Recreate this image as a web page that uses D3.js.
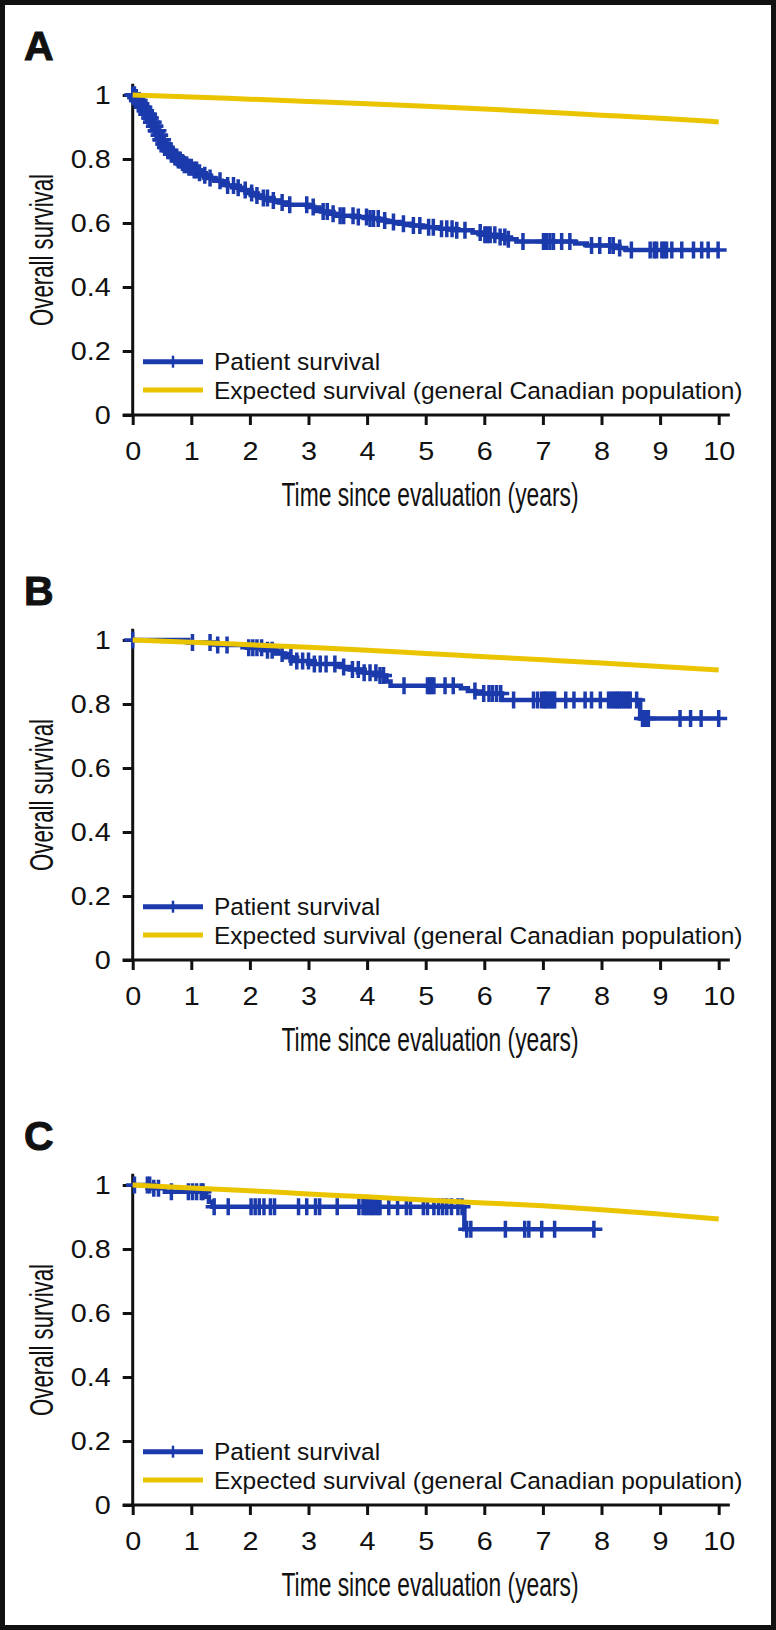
<!DOCTYPE html>
<html><head><meta charset="utf-8">
<script src="https://cdn.jsdelivr.net/npm/d3@7/dist/d3.min.js"></script>
<style>html,body{margin:0;padding:0;background:#fff;} svg{display:block;}</style>
</head><body>
<script>
// ---------- data ----------
const yearTicks = [0,1,2,3,4,5,6,7,8,9,10];
const survivalTicks = [0,0.2,0.4,0.6,0.8,1];
const panelLabels = ["A","B","C"];
const legendLabels = ["Patient survival","Expected survival (general Canadian population)"];
const xTitle = "Time since evaluation (years)";
const yTitle = "Overall survival";

// expected survival (general Canadian population), at yearly points
const expectedTimes = [0,1,2,3,4,5,6,7,8,9,10];
const expectedA = [1,0.994,0.987,0.980,0.973,0.965,0.956,0.947,0.937,0.927,0.916];
const expectedB = [1,0.993,0.985,0.977,0.968,0.958,0.948,0.938,0.928,0.917,0.906];
const expectedC = [1,0.991,0.982,0.972,0.963,0.953,0.944,0.935,0.923,0.909,0.894];

// Kaplan-Meier patient survival: event times and survival after each event
const eventTimesA = [0,0.04,0.08,0.12,0.16,0.2,0.24,0.28,0.32,0.36,0.40,0.44,0.48,0.52,0.56,0.60,0.65,0.70,0.76,0.82,0.88,0.95,1.02,1.10,1.18,1.28,1.40,1.52,1.62,1.74,1.86,1.98,2.10,2.22,2.34,2.50,2.62,3.00,3.10,3.22,3.34,3.46,3.80,4.05,4.20,4.35,4.55,4.75,4.95,5.25,5.50,5.80,6.00,6.20,6.40,6.55,7.55,7.75,8.22,8.42];
const survA = [1,0.992,0.983,0.973,0.962,0.951,0.940,0.928,0.915,0.902,0.888,0.874,0.860,0.847,0.836,0.826,0.815,0.806,0.797,0.789,0.782,0.774,0.766,0.757,0.749,0.741,0.732,0.724,0.717,0.710,0.703,0.694,0.686,0.678,0.670,0.664,0.657,0.650,0.643,0.636,0.629,0.623,0.619,0.614,0.608,0.603,0.598,0.592,0.587,0.582,0.577,0.570,0.563,0.556,0.549,0.542,0.536,0.530,0.522,0.516];
const censorA = [0,0.02,0.03,0.05,0.06,0.08,0.09,0.11,0.13,0.14,0.16,0.17,0.19,0.21,0.22,0.24,0.25,0.27,0.29,0.30,0.32,0.33,0.35,0.37,0.38,0.40,0.41,0.43,0.45,0.46,0.48,0.49,0.51,0.53,0.54,0.56,0.57,0.60,0.63,0.66,0.69,0.72,0.75,0.78,0.81,0.85,0.88,0.92,0.96,1.0,1.05,1.09,1.14,1.23,1.32,1.49,1.62,1.72,1.80,1.92,2.03,2.12,2.23,2.30,2.40,2.55,2.68,2.97,3.08,3.25,3.32,3.42,3.54,3.60,3.76,3.85,3.99,4.05,4.11,4.19,4.30,4.45,4.62,4.79,4.90,5.05,5.13,5.27,5.36,5.45,5.53,5.67,5.93,6.01,6.05,6.10,6.18,6.27,6.35,6.41,6.66,7.01,7.06,7.12,7.18,7.32,7.46,7.83,7.97,8.14,8.20,8.31,8.51,8.83,8.90,8.94,9.03,9.07,9.11,9.20,9.37,9.57,9.71,9.82,9.99];
const lastFollowUpA = 9.99;

const eventTimesB = [0,0.95,1.45,1.95,2.25,2.45,2.6,2.72,3.05,3.55,3.7,3.95,4.2,4.33,4.40,5.6,5.72,5.85,6.3,8.66];
const survB = [1,0.992,0.984,0.976,0.968,0.958,0.946,0.934,0.925,0.916,0.908,0.898,0.889,0.870,0.857,0.849,0.841,0.833,0.8125,0.755];
const censorB = [0,1.02,1.32,1.45,1.61,1.98,2.05,2.12,2.2,2.3,2.38,2.55,2.7,2.8,2.9,3.0,3.1,3.2,3.3,3.45,3.6,3.75,3.85,3.95,4.05,4.15,4.22,4.28,4.63,5.03,5.07,5.10,5.14,5.33,5.47,5.84,5.99,6.08,6.14,6.21,6.28,6.50,6.84,6.91,6.98,7.02,7.05,7.09,7.13,7.17,7.20,7.39,7.53,7.72,7.83,7.98,8.12,8.16,8.20,8.24,8.27,8.31,8.34,8.38,8.42,8.46,8.49,8.60,8.70,8.75,8.80,9.34,9.52,9.70,10.0];
const lastFollowUpB = 10.0;

const eventTimesC = [0,0.3,0.55,1.25,1.3,1.36,5.66];
const survC = [1,0.99,0.979,0.963,0.948,0.932,0.8615];
const censorC = [0.03,0.25,0.29,0.36,0.44,0.66,0.95,1.02,1.09,1.17,1.2,1.39,1.63,2.02,2.09,2.16,2.24,2.35,2.42,2.83,2.97,3.12,3.19,3.49,3.86,3.93,3.97,4.00,4.04,4.08,4.11,4.15,4.19,4.22,4.37,4.52,4.67,4.74,4.96,5.03,5.14,5.22,5.29,5.36,5.44,5.55,5.62,5.70,5.77,6.36,6.69,6.76,6.98,7.20,7.87];
const lastFollowUpC = 7.87;

// ---------- drawing ----------
const W = 776, H = 1630;
const BLUE = "#1b3aab", YELLOW = "#ebc400", INK = "#111";
const FONT = "'Liberation Sans', Arial, Helvetica, sans-serif";
const NARROW = "'Liberation Sans Narrow', 'Liberation Sans', Arial, sans-serif";

const panels = [
  {label: panelLabels[0], y0: 415, exp: expectedA, et: eventTimesA, sv: survA, cen: censorA, end: lastFollowUpA},
  {label: panelLabels[1], y0: 960, exp: expectedB, et: eventTimesB, sv: survB, cen: censorB, end: lastFollowUpB},
  {label: panelLabels[2], y0: 1505, exp: expectedC, et: eventTimesC, sv: survC, cen: censorC, end: lastFollowUpC}
];

const svg = d3.select("body").append("svg").attr("width", W).attr("height", H);
svg.append("rect").attr("x",0).attr("y",0).attr("width",W).attr("height",H).attr("fill","#fff");
svg.append("rect").attr("x",2.5).attr("y",2.5).attr("width",W-5).attr("height",H-5)
  .attr("fill","none").attr("stroke",INK).attr("stroke-width",5);

const x = d3.scaleLinear().domain([0,10]).range([132.7,718.7]);

panels.forEach((p) => {
  const y = d3.scaleLinear().domain([0,1]).range([p.y0, p.y0-320]);
  const g = svg.append("g");

  // panel letter
  g.append("text").attr("x",24).attr("y",p.y0-355).text(p.label)
    .attr("font-family",FONT).attr("font-weight","bold").attr("font-size",41).attr("fill",INK)
    .attr("stroke",INK).attr("stroke-width",1);

  // axes
  const ya = g.append("g").attr("transform",`translate(${x(0)},0)`)
    .call(d3.axisLeft(y).tickValues(survivalTicks).tickSize(10).tickPadding(12).tickFormat(d=>String(d)));
  const xa = g.append("g").attr("transform",`translate(0,${p.y0})`)
    .call(d3.axisBottom(x).tickValues(yearTicks).tickSize(10).tickPadding(17).tickFormat(d=>String(d)));
  [ya,xa].forEach(a=>{
    a.select(".domain").remove();
    a.selectAll(".tick line").attr("stroke",INK).attr("stroke-width",3);
    a.selectAll(".tick text").attr("font-family",FONT).attr("font-size",25).attr("fill",INK)
      .each(function(){
        const w = this.getComputedTextLength();
        if (w > 0) { this.setAttribute("textLength", (w*1.15).toFixed(1)); this.setAttribute("lengthAdjust","spacingAndGlyphs"); }
      });
  });
  g.append("line").attr("x1",x(0)).attr("x2",x(0)).attr("y1",p.y0+1.5).attr("y2",y(1.035))
    .attr("stroke",INK).attr("stroke-width",3);
  g.append("line").attr("x1",x(0)-10).attr("x2",x(10.19)).attr("y1",p.y0).attr("y2",p.y0)
    .attr("stroke",INK).attr("stroke-width",3);

  // axis titles
  g.append("text").attr("x",430).attr("y",p.y0+91).attr("text-anchor","middle")
    .attr("font-family",NARROW).attr("font-size",34).attr("fill",INK)
    .attr("textLength",297).attr("lengthAdjust","spacingAndGlyphs").text(xTitle);
  const cy = p.y0-160-5;
  g.append("text").attr("transform",`translate(53,${cy}) rotate(-90)`).attr("text-anchor","middle")
    .attr("font-family",NARROW).attr("font-size",34).attr("fill",INK)
    .attr("textLength",152).attr("lengthAdjust","spacingAndGlyphs").text(yTitle);

  // KM step curve
  const kmPts = p.et.map((t,i)=>[t,p.sv[i]]);
  kmPts.push([p.end, p.sv[p.sv.length-1]]);
  g.append("path").attr("d", d3.line().x(d=>x(d[0])).y(d=>y(d[1])).curve(d3.curveStepAfter)(kmPts))
    .attr("fill","none").attr("stroke",BLUE).attr("stroke-width",4.5).attr("stroke-linejoin","miter");

  // censor marks (+)
  const S = t => p.sv[Math.max(0, d3.bisectRight(p.et, t)-1)];
  g.append("g").selectAll("path").data(p.cen).join("path")
    .attr("d", t => { const cx = x(t), cyy = y(S(t));
      return `M${cx-8.5},${cyy}H${cx+8.5}M${cx},${cyy-8.5}V${cyy+8.5}`; })
    .attr("fill","none").attr("stroke",BLUE).attr("stroke-width",3.5);

  // expected survival (drawn on top)
  const expPts = expectedTimes.map((t,i)=>[t,p.exp[i]]);
  g.append("path").attr("d", d3.line().x(d=>x(d[0])).y(d=>y(d[1])).curve(d3.curveMonotoneX)(expPts))
    .attr("fill","none").attr("stroke",YELLOW).attr("stroke-width",5);

  // legend
  const ly1 = p.y0-53.3, ly2 = p.y0-25;
  g.append("line").attr("x1",143).attr("x2",203).attr("y1",ly1).attr("y2",ly1).attr("stroke",BLUE).attr("stroke-width",5);
  g.append("line").attr("x1",173).attr("x2",173).attr("y1",ly1-6).attr("y2",ly1+6).attr("stroke",BLUE).attr("stroke-width",2.5);
  g.append("line").attr("x1",143).attr("x2",203).attr("y1",ly2).attr("y2",ly2).attr("stroke",YELLOW).attr("stroke-width",5);
  g.append("text").attr("x",214).attr("y",ly1+8.5).text(legendLabels[0])
    .attr("font-family",FONT).attr("font-size",24.5).attr("fill",INK);
  g.append("text").attr("x",214).attr("y",ly2+8.5).text(legendLabels[1])
    .attr("font-family",FONT).attr("font-size",24.5).attr("fill",INK);
});
</script>
</body></html>
